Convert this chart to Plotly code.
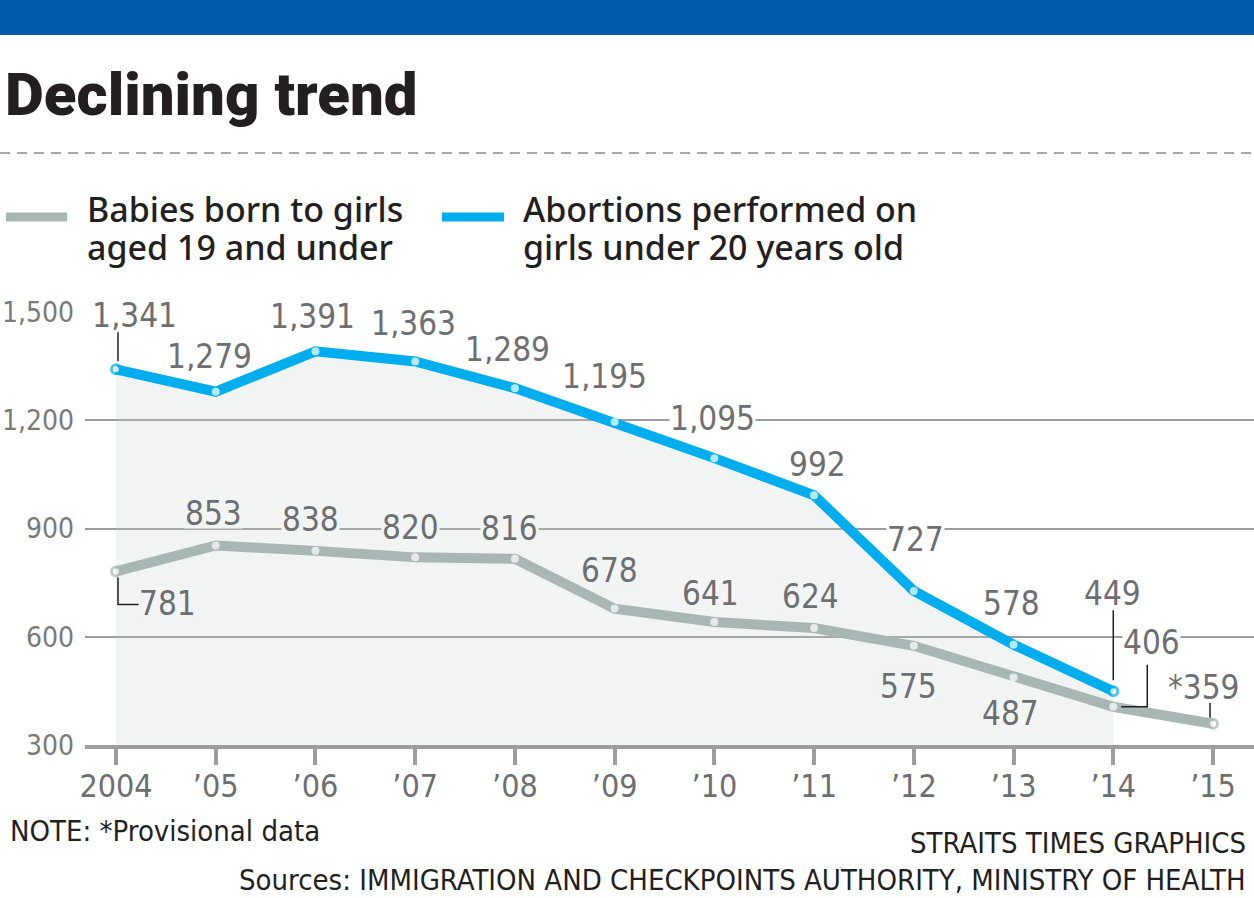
import plotly.graph_objects as go

# Data
years = [2004, 2005, 2006, 2007, 2008, 2009, 2010, 2011, 2012, 2013, 2014, 2015]
year_labels = ["2004", "’05", "’06", "’07", "’08", "’09", "’10", "’11", "’12", "’13", "’14", "’15"]
abortions = [1341, 1279, 1391, 1363, 1289, 1195, 1095, 992, 727, 578, 449]
babies = [781, 853, 838, 820, 816, 678, 641, 624, 575, 487, 406, 359]
provisional_year = 2015
y_ticks = [300, 600, 900, 1200, 1500]

legend_names = ["Babies born to girls<br>aged 19 and under",
                "Abortions performed on<br>girls under 20 years old"]

# Label offsets in pixels (dx, dy up)
abort_off = [(18, 54), (-6, 36), (-3, 35), (-2, 38), (-7, 39), (-10, 46),
             (-2, 40), (3, 31), (2, 52), (-2, 42), (-1, 98)]
baby_off = [(51, -32), (-2, 32), (-5, 32), (-5, 30), (-5, 31), (-5, 39),
            (-4, 29), (-4, 32), (-5, -40), (-3, -35), (38, 65), (-9, 37)]

BLUE = "#00adee"
GREY = "#a9b7b4"
TXT = "#231f20"
NUM = "#6d6e71"
FILL = "rgba(200,210,205,0.24)"
FILL_SOLID = "#f3f5f4"
NUM_FONT = "DejaVu Sans Condensed, Roboto"

# Canvas geometry
W, H = 1254, 898
L, R, T, B = 85, 0, 312, 153
pw, ph = W - L - R, H - T - B


def fx(px):
    return (px - L) / pw


def fy(py):
    return (H - B - py) / ph


step = (1213 - 116) / 11
x_range = [2004 - (116 - L) / step, 2015 + (W - 1213) / step]

fig = go.Figure()

# Abortions line with shaded area underneath
n_a = len(abortions)
fig.add_trace(go.Scatter(
    x=years[:n_a], y=abortions, mode="lines+markers", fill="tozeroy", fillcolor=FILL,
    line=dict(color=BLUE, width=10),
    marker=dict(color="white",
                size=[9 if i in (0, n_a - 1) else 8 for i in range(n_a)],
                line=dict(color=BLUE, width=[3 if i in (0, n_a - 1) else 0 for i in range(n_a)])),
    showlegend=False, hoverinfo="skip"))

n_b = len(babies)
fig.add_trace(go.Scatter(
    x=years, y=babies, mode="lines+markers",
    line=dict(color=GREY, width=10),
    marker=dict(color="white",
                size=[9 if i in (0, n_b - 1) else 8 for i in range(n_b)],
                line=dict(color=GREY, width=[3 if i in (0, n_b - 1) else 0 for i in range(n_b)])),
    showlegend=False, hoverinfo="skip"))

annotations = []
# Value labels
for i, v in enumerate(abortions):
    dx, dy = abort_off[i]
    annotations.append(dict(x=years[i], y=v, xref="x", yref="y", text=f"{v:,}",
                            showarrow=False, xshift=dx, yshift=dy, height=30,
                            bgcolor="white", borderpad=0,
                            font=dict(family=NUM_FONT, size=33, color=NUM)))
for i, v in enumerate(babies):
    dx, dy = baby_off[i]
    label = ("*" if years[i] == provisional_year else "") + f"{v:,}"
    bg = FILL_SOLID if years[i] < 2014 else "white"
    annotations.append(dict(x=years[i], y=v, xref="x", yref="y", text=label,
                            showarrow=False, xshift=dx, yshift=dy, height=30,
                            bgcolor=bg, borderpad=0,
                            font=dict(family=NUM_FONT, size=33, color=NUM)))

# Title
annotations.append(dict(x=fx(3), y=fy(94), xref="paper", yref="paper", text="Declining trend",
                        xanchor="left", yanchor="middle", showarrow=False,
                        font=dict(family="Roboto", size=60, color=TXT, weight=900)))

# Legend text (one annotation per line so the line spacing matches)
for name, left in zip(legend_names, [85, 521]):
    for j, line in enumerate(name.split("<br>")):
        annotations.append(dict(x=fx(left), y=fy(213 + 38 * j), xref="paper", yref="paper", text=line,
                                xanchor="left", yanchor="middle", showarrow=False,
                                height=38, valign="bottom",
                                font=dict(family="Noto Sans", size=34, color=TXT, weight=500)))

# Footer
annotations.append(dict(x=fx(8), y=fy(831), xref="paper", yref="paper", text="NOTE: *Provisional data",
                        xanchor="left", yanchor="middle", showarrow=False,
                        font=dict(family=NUM_FONT, size=29, color=TXT)))
annotations.append(dict(x=fx(1248), y=fy(843), xref="paper", yref="paper", text="STRAITS TIMES GRAPHICS",
                        xanchor="right", yanchor="middle", showarrow=False,
                        font=dict(family=NUM_FONT, size=29, color=TXT)))
annotations.append(dict(x=fx(1248), y=fy(880), xref="paper", yref="paper",
                        text="Sources: IMMIGRATION AND CHECKPOINTS AUTHORITY, MINISTRY OF HEALTH",
                        xanchor="right", yanchor="middle", showarrow=False,
                        font=dict(family=NUM_FONT, size=29, color=TXT)))

shapes = [
    # blue band on top
    dict(type="rect", xref="paper", yref="paper", x0=fx(0), x1=fx(W), y0=fy(0), y1=fy(35),
         fillcolor="#005baa", line=dict(width=0)),
    # dashed separator
    dict(type="line", xref="paper", yref="paper", x0=fx(0), x1=fx(W), y0=fy(153), y1=fy(153),
         line=dict(color="#a7a7a7", width=2, dash="10px,7px")),
    # legend swatches
    dict(type="line", xref="paper", yref="paper", x0=fx(6), x1=fx(67), y0=fy(217), y1=fy(217),
         line=dict(color=GREY, width=9)),
    dict(type="line", xref="paper", yref="paper", x0=fx(442), x1=fx(504), y0=fy(217), y1=fy(217),
         line=dict(color=BLUE, width=9)),
]

# Leader lines (pixel offsets from the data point)
leaders = [
    (years[0], abortions[0], "M 2,8 L 2,37"),
    (years[10], abortions[10], "M 0,11 L 0,81"),
    (years[0], babies[0], "M 2,-6 L 2,-33 L 26,-33"),
    (years[10], babies[10], "M 8,0 L 34,0 L 34,42"),
    (years[11], babies[11], "M -3,6 L -3,21"),
]
for lx, ly, path in leaders:
    shapes.append(dict(type="path", xref="x", yref="y", xsizemode="pixel", ysizemode="pixel",
                       xanchor=lx, yanchor=ly, path=path, layer="above",
                       line=dict(color=TXT, width=1.5)))

fig.update_layout(
    width=W, height=H, margin=dict(l=L, r=R, t=T, b=B, autoexpand=False),
    paper_bgcolor="white", plot_bgcolor="white",
    annotations=annotations, shapes=shapes, showlegend=False,
    xaxis=dict(range=x_range, tickvals=years, ticktext=year_labels, showgrid=False, zeroline=False,
               showline=True, linecolor="#9d9d9d", linewidth=4, automargin=False,
               ticks="outside", ticklen=16, tickwidth=4, tickcolor="#9d9d9d",
               ticklabelstandoff=-6,
               tickfont=dict(family=NUM_FONT, size=32, color=NUM), fixedrange=True),
    yaxis=dict(range=[300, 1500], tickvals=y_ticks, ticktext=[f"{t:,}" for t in y_ticks],
               showgrid=True, gridcolor="#9d9d9d", gridwidth=1.5, zeroline=False, showline=False,
               ticks="", ticklabelstandoff=10, automargin=False,
               tickfont=dict(family=NUM_FONT, size=28, color="#7a7a7a"), fixedrange=True),
)

fig.write_html("out.html", config={"displayModeBar": False},
               post_script="document.body.style.margin='0px';document.body.style.overflow='hidden';")
